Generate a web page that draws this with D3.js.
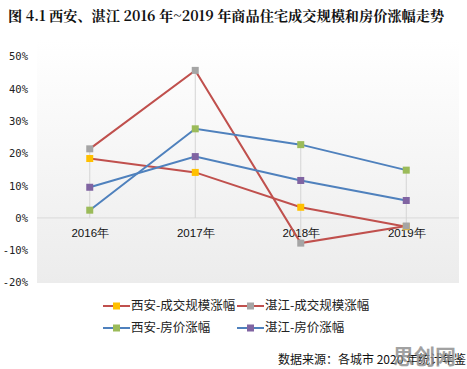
<!DOCTYPE html>
<html>
<head>
<meta charset="utf-8">
<script src="https://cdn.jsdelivr.net/npm/d3@7"></script>
<style>
  body { margin: 0; background: #fff; }
  svg { display: block; }
</style>
</head>
<body>
<div id="chart"></div>
<script>
// data
const years = ["2016年", "2017年", "2018年", "2019年"];
const xaDeal = [18.4, 14.1, 3.3, -2.7];      // 西安-成交规模涨幅
const zjDeal = [21.4, 45.7, -7.8, -2.5];     // 湛江-成交规模涨幅
const xaPrice = [2.4, 27.6, 22.7, 14.8];     // 西安-房价涨幅
const zjPrice = [9.5, 19.0, 11.6, 5.4];      // 湛江-房价涨幅
const yTicks = [50, 40, 30, 20, 10, 0, -10, -20];

const series = [
  {name: "西安-成交规模涨幅", values: xaDeal, line: "#C0504D", marker: "#FFC000"},
  {name: "湛江-成交规模涨幅", values: zjDeal, line: "#C0504D", marker: "#A5A5A5"},
  {name: "西安-房价涨幅", values: xaPrice, line: "#4F81BD", marker: "#9BBB59"},
  {name: "湛江-房价涨幅", values: zjPrice, line: "#4F81BD", marker: "#8064A2"}
];

const width = 467, height = 369;
const plotL = 37, plotR = 459, plotT = 40, plotB = 283;

const svg = d3.select("#chart").append("svg")
  .attr("width", width)
  .attr("height", height)
  .attr("font-family", "'Noto Sans CJK SC', sans-serif");

const defs = svg.append("defs");
const grad = defs.append("linearGradient")
  .attr("id", "bg").attr("x1", 0).attr("y1", 0).attr("x2", 0).attr("y2", 1);
grad.append("stop").attr("offset", "0%").attr("stop-color", "#ffffff");
grad.append("stop").attr("offset", "100%").attr("stop-color", "#ececec");

// title
svg.append("text")
  .attr("x", 8).attr("y", 21)
  .attr("font-size", 14.2)
  .attr("font-weight", "bold")
  .attr("font-family", "'Noto Serif CJK SC', 'Noto Sans CJK SC', serif")
  .attr("fill", "#111")
  .text("图 4.1 西安、湛江 2016 年~2019 年商品住宅成交规模和房价涨幅走势");

const x = d3.scalePoint().domain(years).range([plotL, plotR]).padding(0.5);
const y = d3.scaleLinear().domain([-20, 50]).range([282.5, 56.5]);

// plot area
svg.append("rect")
  .attr("x", plotL).attr("y", plotT)
  .attr("width", plotR - plotL).attr("height", plotB - plotT)
  .attr("fill", "url(#bg)");

// zero line
svg.append("line")
  .attr("x1", plotL).attr("x2", plotR)
  .attr("y1", y(0)).attr("y2", y(0))
  .attr("stroke", "#d9d9d9").attr("stroke-width", 1);

// y axis labels
const yAxis = svg.append("g")
  .attr("transform", `translate(${28},0)`)
  .call(d3.axisLeft(y).tickValues(yTicks).tickSize(0).tickPadding(0)
    .tickFormat(d => d + "%"));
yAxis.select(".domain").remove();
yAxis.selectAll("text")
  .attr("font-size", 10.5)
  .attr("font-family", "'DejaVu Sans Mono', monospace")
  .attr("fill", "#222");

// drop lines from each point to the axis
years.forEach((yr, i) => {
  const vals = series.map(s => s.values[i]);
  const hi = Math.max(0, d3.max(vals)), lo = Math.min(0, d3.min(vals));
  svg.append("line")
    .attr("x1", x(yr)).attr("x2", x(yr))
    .attr("y1", y(hi)).attr("y2", y(lo))
    .attr("stroke", "#d4d4d4").attr("stroke-width", 1);
});

// x labels
const xAxis = svg.append("g")
  .attr("transform", `translate(0,${y(0) + 11})`)
  .call(d3.axisBottom(x).tickSize(0).tickPadding(0));
xAxis.select(".domain").remove();
xAxis.selectAll("text")
  .attr("font-size", 11.5)
  .attr("fill", "#111");

// lines
const line = d3.line()
  .x((d, i) => x(years[i]))
  .y(d => y(d));

series.forEach(s => {
  svg.append("path")
    .datum(s.values)
    .attr("fill", "none")
    .attr("stroke", s.line)
    .attr("stroke-width", 2)
    .attr("d", line);
});

series.forEach(s => {
  svg.append("g").selectAll("rect")
    .data(s.values)
    .join("rect")
      .attr("x", (d, i) => x(years[i]) - 3.5)
      .attr("y", d => y(d) - 3.5)
      .attr("width", 7).attr("height", 7)
      .attr("fill", s.marker);
});

// legend
const legendPos = [[103, 306], [237, 306], [103, 328], [237, 328]];
const legend = svg.append("g")
  .selectAll("g")
  .data(series)
  .join("g")
    .attr("transform", (d, i) => `translate(${legendPos[i][0]},${legendPos[i][1]})`);
legend.append("line")
  .attr("x1", 0).attr("x2", 27)
  .attr("stroke", d => d.line).attr("stroke-width", 2);
legend.append("rect")
  .attr("x", 10).attr("y", -3.5).attr("width", 7).attr("height", 7)
  .attr("fill", d => d.marker);
legend.append("text")
  .attr("x", 28).attr("y", 0).attr("dy", "0.35em")
  .attr("font-size", 12.5)
  .attr("fill", "#222")
  .text(d => d.name);

// source note
svg.append("text")
  .attr("x", 278).attr("y", 364)
  .attr("font-size", 12)
  .attr("fill", "#111")
  .text("数据来源：各城市 2020 年统计年鉴");

// watermark
svg.append("text")
  .attr("x", 393).attr("y", 364)
  .attr("font-size", 21)
  .attr("font-weight", "bold")
  .attr("fill", "#8a8a8a")
  .attr("opacity", 0.8)
  .text("思创网");
</script>
</body>
</html>
